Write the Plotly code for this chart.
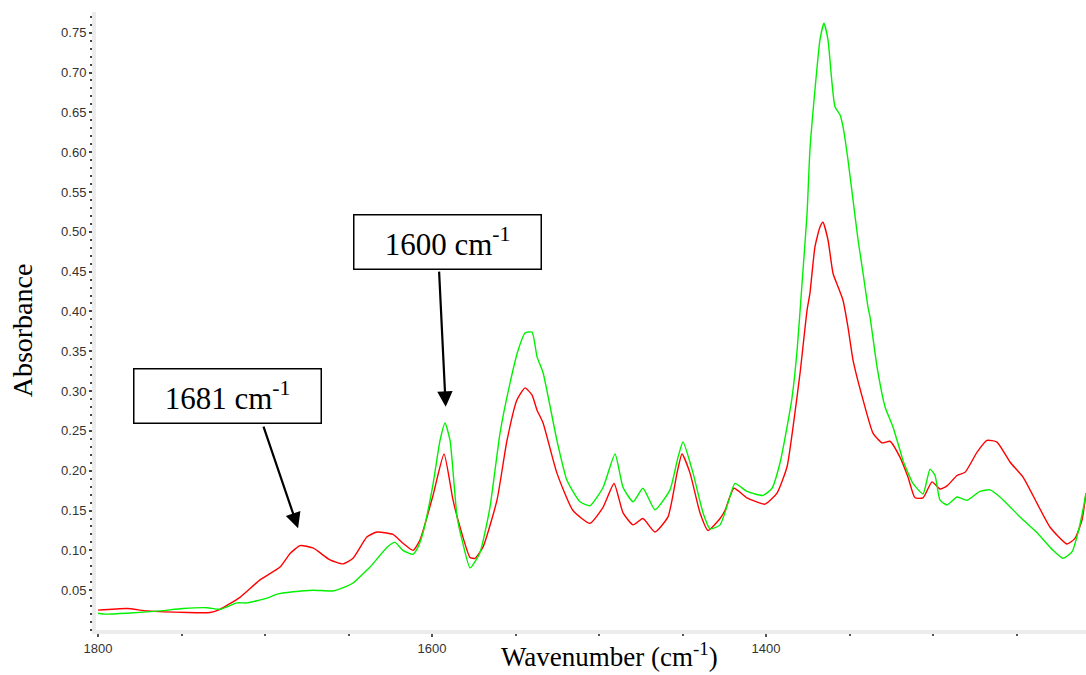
import plotly.graph_objects as go

# ---- data ----
red_wn = [1800, 1782.6, 1770.7, 1746.7, 1732.9, 1726.9, 1715.0, 1703.0, 1691.0, 1685.0,
          1679.0, 1671.3, 1661.1, 1653.3, 1647.3, 1638.9, 1632.9, 1623.4, 1617.4, 1611.4,
          1607.2, 1599.4, 1592.8, 1587.4, 1583.2, 1577.2, 1574.3, 1569.5, 1561.1, 1555.1,
          1549.1, 1544.3, 1540.1, 1537.1, 1533.5, 1525.2, 1515.6, 1505.4, 1497.6, 1491.0,
          1485.6, 1479.6, 1473.7, 1466.5, 1458.7, 1453.3, 1450.3, 1445.5, 1439.5, 1434.7,
          1427.5, 1424.6, 1419.2, 1411.4, 1400.6, 1393.4, 1387.4, 1383.8, 1379.6, 1375.4,
          1373.7, 1370.7, 1367.7, 1365.9, 1362.9, 1359.9, 1356.9, 1353.9, 1350.9, 1347.9,
          1341.9, 1335.9, 1330.5, 1325.8, 1319.8, 1315.0, 1310.8, 1306.0, 1300.6, 1295.8,
          1291.6, 1285.6, 1280.8, 1273.7, 1267.7, 1261.7, 1253.9, 1246.1, 1237.7, 1229.9,
          1219.8, 1215.0, 1210.8, 1208.4]
red_abs = [0.025, 0.027, 0.024, 0.022, 0.022, 0.026, 0.041, 0.063, 0.079, 0.096,
           0.106, 0.103, 0.088, 0.083, 0.090, 0.117, 0.123, 0.120, 0.109, 0.100,
           0.113, 0.169, 0.221, 0.163, 0.129, 0.091, 0.090, 0.104, 0.163, 0.238,
           0.289, 0.304, 0.295, 0.276, 0.260, 0.197, 0.150, 0.134, 0.154, 0.184,
           0.147, 0.132, 0.140, 0.123, 0.142, 0.197, 0.221, 0.197, 0.147, 0.125,
           0.140, 0.150, 0.178, 0.166, 0.158, 0.172, 0.205, 0.255, 0.323, 0.402,
           0.423, 0.481, 0.506, 0.512, 0.490, 0.448, 0.431, 0.414, 0.380, 0.339,
           0.289, 0.247, 0.235, 0.237, 0.217, 0.192, 0.166, 0.166, 0.186, 0.177,
           0.181, 0.194, 0.198, 0.223, 0.238, 0.236, 0.211, 0.192, 0.159, 0.129,
           0.108, 0.115, 0.138, 0.172]

green_wn = [1800, 1797.0, 1782.6, 1762.9, 1749.1, 1734.7, 1726.9, 1716.8, 1710.8, 1698.8,
            1692.8, 1683.2, 1671.3, 1659.3, 1650.9, 1647.3, 1637.1, 1626.9, 1622.2, 1617.4,
            1611.4, 1608.4, 1605.4, 1599.4, 1595.2, 1592.2, 1589.2, 1585.0, 1582.0, 1577.2,
            1571.3, 1565.3, 1559.3, 1553.3, 1548.5, 1544.3, 1540.1, 1537.1, 1533.5, 1525.2,
            1519.2, 1511.4, 1505.4, 1497.6, 1490.4, 1485.6, 1479.6, 1473.7, 1466.5, 1457.5,
            1452.7, 1449.7, 1443.7, 1437.7, 1433.5, 1427.5, 1422.8, 1418.6, 1411.4, 1401.8,
            1396.4, 1391.6, 1387.4, 1384.4, 1381.4, 1378.4, 1375.4, 1373.7, 1370.7, 1367.7,
            1365.3, 1362.9, 1360.5, 1358.7, 1355.7, 1353.9, 1350.9, 1347.9, 1344.9, 1341.9,
            1338.9, 1337.7, 1333.5, 1328.7, 1324.0, 1319.8, 1318.0, 1312.0, 1306.0, 1301.8,
            1298.8, 1295.8, 1291.6, 1285.6, 1279.6, 1271.9, 1265.9, 1259.9, 1247.9, 1237.7,
            1228.1, 1222.2, 1216.8, 1213.2, 1210.2, 1208.4]
green_abs = [0.021, 0.020, 0.021, 0.024, 0.027, 0.028, 0.026, 0.034, 0.034, 0.040,
             0.045, 0.048, 0.050, 0.049, 0.055, 0.059, 0.079, 0.104, 0.110, 0.100,
             0.095, 0.104, 0.122, 0.183, 0.238, 0.260, 0.238, 0.142, 0.113, 0.078,
             0.097, 0.154, 0.247, 0.310, 0.351, 0.373, 0.374, 0.343, 0.323, 0.238,
             0.188, 0.161, 0.156, 0.179, 0.221, 0.179, 0.161, 0.178, 0.151, 0.176,
             0.217, 0.236, 0.197, 0.147, 0.127, 0.132, 0.159, 0.184, 0.174, 0.169,
             0.178, 0.210, 0.255, 0.292, 0.351, 0.436, 0.524, 0.603, 0.678, 0.741,
             0.762, 0.741, 0.687, 0.657, 0.647, 0.632, 0.590, 0.540, 0.490, 0.448,
             0.405, 0.393, 0.330, 0.280, 0.255, 0.226, 0.213, 0.184, 0.171, 0.202,
             0.194, 0.163, 0.157, 0.167, 0.163, 0.174, 0.176, 0.167, 0.142, 0.122,
             0.100, 0.090, 0.098, 0.122, 0.151, 0.172]

y_ticks = [0.05, 0.10, 0.15, 0.20, 0.25, 0.30, 0.35, 0.40, 0.45, 0.50, 0.55, 0.60, 0.65, 0.70, 0.75]
x_ticks = [1800, 1600, 1400]

fig = go.Figure()
fig.add_trace(go.Scatter(x=red_wn, y=red_abs, mode="lines",
                         line=dict(color="#ff0000", width=1.4, shape="spline", smoothing=0.5),
                         showlegend=False))
fig.add_trace(go.Scatter(x=green_wn, y=green_abs, mode="lines",
                         line=dict(color="#00f000", width=1.4, shape="spline", smoothing=0.5),
                         showlegend=False))

serif = "Liberation Serif"
tickfont = dict(family="Liberation Sans", size=13, color="#333333")

fig.update_layout(
    width=1086, height=675,
    margin=dict(l=96, r=0, t=12, b=45),
    paper_bgcolor="white", plot_bgcolor="white",
    xaxis=dict(range=[1801.2, 1208.4], tickvals=x_ticks, ticktext=[str(v) for v in x_ticks],
               showgrid=False, zeroline=False, showline=True, linecolor="#ececec", linewidth=4,
               ticks="outside", ticklen=3, tickwidth=1.5, tickcolor="#555555",
               minor=dict(dtick=50, ticks="outside", ticklen=2, tickwidth=1.5, tickcolor="#555555"),
               tickfont=tickfont),
    yaxis=dict(range=[0.0, 0.776], tickvals=y_ticks, ticktext=[f"{v:.2f}" for v in y_ticks],
               showgrid=False, zeroline=False, showline=True, linecolor="#ececec", linewidth=4,
               ticks="outside", ticklen=3, tickwidth=1.5, tickcolor="#444444",
               minor=dict(dtick=0.01, ticks="outside", ticklen=2, tickwidth=1.5, tickcolor="#444444"),
               tickfont=tickfont),
)

# axis titles
fig.add_annotation(text="Wavenumber (cm<sup>-1</sup>)", xref="paper", yref="paper",
                   x=0.519, y=-0.0405, xanchor="center", yanchor="middle", showarrow=False,
                   font=dict(family=serif, size=27, color="black"))
fig.add_annotation(text="Absorbance", xref="paper", yref="paper", textangle=-90,
                   x=-0.0747, y=0.485, xanchor="center", yanchor="middle", showarrow=False,
                   font=dict(family=serif, size=28, color="black"))

# labelled boxes
for txt, bx, by in [("1681 cm<sup>-1</sup>", 1722.2, 0.2937), ("1600 cm<sup>-1</sup>", 1591.0, 0.4877)]:
    fig.add_annotation(text=txt, x=bx, y=by, xref="x", yref="y", showarrow=False,
                       xanchor="center", yanchor="middle", width=186, height=53,
                       bordercolor="black", borderwidth=1.5, borderpad=0, bgcolor="white",
                       font=dict(family=serif, size=31, color="black"))

# arrows
for tx, ty, sx, sy in [(1680.2, 0.1279, 1701.2, 0.2572), (1591.8, 0.2802, 1595.8, 0.4519)]:
    fig.add_annotation(x=tx, y=ty, ax=sx, ay=sy, xref="x", yref="y", axref="x", ayref="y",
                       text="", showarrow=True, arrowhead=2, arrowsize=1.4, arrowwidth=2.2,
                       arrowcolor="black")

fig.write_html("out.html")
